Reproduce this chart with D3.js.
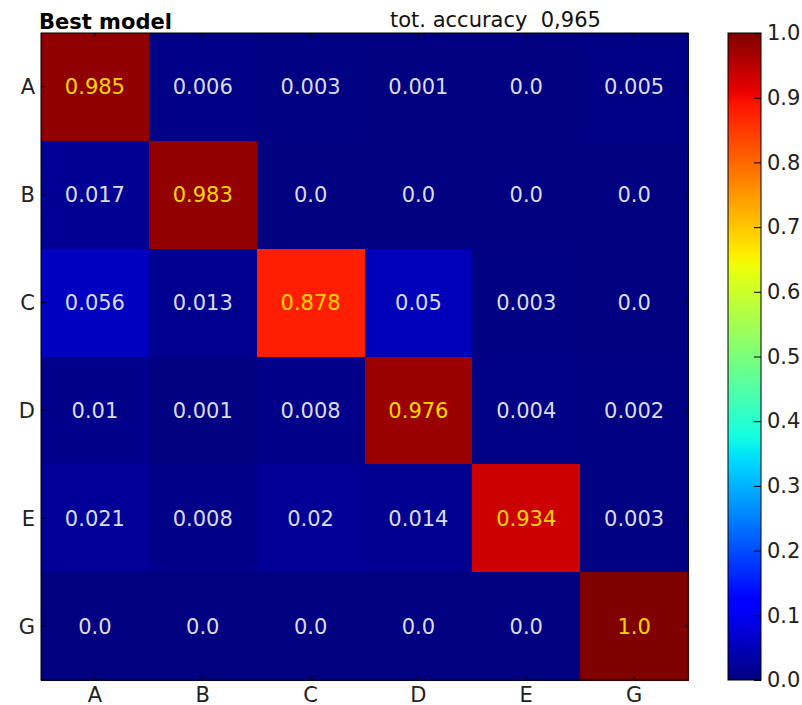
<!DOCTYPE html>
<html>
<head>
<meta charset="utf-8">
<script src="https://cdn.jsdelivr.net/npm/d3@7"></script>
<style>
  html, body { margin: 0; padding: 0; background: #ffffff; }
  svg { display: block; font-family: "DejaVu Sans", sans-serif; }
</style>
</head>
<body>
<svg id="chart" width="802" height="705"></svg>
<script>
// ---- data ----
const rowLabels = ["A", "B", "C", "D", "E", "G"];
const colLabels = ["A", "B", "C", "D", "E", "G"];
const rowA = [0.985, 0.006, 0.003, 0.001, 0.0, 0.005];
const rowB = [0.017, 0.983, 0.0, 0.0, 0.0, 0.0];
const rowC = [0.056, 0.013, 0.878, 0.05, 0.003, 0.0];
const rowD = [0.01, 0.001, 0.008, 0.976, 0.004, 0.002];
const rowE = [0.021, 0.008, 0.02, 0.014, 0.934, 0.003];
const rowG = [0.0, 0.0, 0.0, 0.0, 0.0, 1.0];
const matrixRows = [rowA, rowB, rowC, rowD, rowE, rowG];
const colorbarTicks = [0.0, 0.1, 0.2, 0.3, 0.4, 0.5, 0.6, 0.7, 0.8, 0.9, 1.0];
const titleLeft = "Best model";
const titleRight = "tot. accuracy  0,965";

// ---- jet colormap (matplotlib segment data) ----
const jetR = [[0, 0], [0.35, 0], [0.66, 1], [0.89, 1], [1, 0.5]];
const jetG = [[0, 0], [0.125, 0], [0.375, 1], [0.64, 1], [0.91, 0], [1, 0]];
const jetB = [[0, 0.5], [0.11, 1], [0.34, 1], [0.65, 0], [1, 0]];
function seg(s, v) {
  v = Math.max(0, Math.min(1, v));
  for (let i = 0; i < s.length - 1; i++) {
    if (v >= s[i][0] && v <= s[i + 1][0]) {
      const t = (v - s[i][0]) / (s[i + 1][0] - s[i][0]);
      return s[i][1] + t * (s[i + 1][1] - s[i][1]);
    }
  }
  return s[s.length - 1][1];
}
function jet(v) {
  return d3.rgb(Math.round(seg(jetR, v) * 255), Math.round(seg(jetG, v) * 255), Math.round(seg(jetB, v) * 255)).toString();
}

const svg = d3.select("#chart");
const mLeft = 41, mTop = 33, mRight = 688, mBottom = 680;
const fs = 21;

const x = d3.scaleBand().domain(colLabels).range([mLeft, mRight]).padding(0);
const y = d3.scaleBand().domain(rowLabels).range([mTop, mBottom]).padding(0);

const cells = [];
matrixRows.forEach((row, i) => row.forEach((v, j) => cells.push({ r: rowLabels[i], c: colLabels[j], v, diag: i === j })));

svg.append("g").attr("shape-rendering", "crispEdges").selectAll("rect").data(cells).join("rect")
  .attr("x", d => x(d.c)).attr("y", d => y(d.r))
  .attr("width", x.bandwidth() + 1).attr("height", y.bandwidth() + 1)
  .attr("fill", d => jet(d.v));

svg.append("g").selectAll("text").data(cells).join("text")
  .attr("x", d => x(d.c) + x.bandwidth() / 2)
  .attr("y", d => y(d.r) + y.bandwidth() / 2)
  .attr("dy", "0.36em")
  .attr("text-anchor", "middle")
  .attr("font-size", fs)
  .attr("fill", d => d.diag ? "#ffd700" : "#dcdcf0")
  .text(d => String(d.v).indexOf(".") >= 0 ? String(d.v) : d.v.toFixed(1));

// frame
svg.append("rect").attr("x", mLeft).attr("y", mTop).attr("width", mRight - mLeft).attr("height", mBottom - mTop)
  .attr("fill", "none").attr("stroke", "#000").attr("stroke-width", 1);

// inward ticks
const tk = 4;
const tickG = svg.append("g").attr("stroke", "#000").attr("stroke-width", 1);
colLabels.forEach(c => {
  const cx = x(c) + x.bandwidth() / 2;
  tickG.append("line").attr("x1", cx).attr("x2", cx).attr("y1", mBottom).attr("y2", mBottom - tk);
  tickG.append("line").attr("x1", cx).attr("x2", cx).attr("y1", mTop).attr("y2", mTop + tk);
});
rowLabels.forEach(r => {
  const cy = y(r) + y.bandwidth() / 2;
  tickG.append("line").attr("x1", mLeft).attr("x2", mLeft + tk).attr("y1", cy).attr("y2", cy);
  tickG.append("line").attr("x1", mRight).attr("x2", mRight - tk).attr("y1", cy).attr("y2", cy);
});

// axis labels
svg.append("g").selectAll("text").data(colLabels).join("text")
  .attr("x", c => x(c) + x.bandwidth() / 2).attr("y", 702)
  .attr("text-anchor", "middle").attr("font-size", fs).attr("fill", "#222").text(c => c);
svg.append("g").selectAll("text").data(rowLabels).join("text")
  .attr("x", 35).attr("y", r => y(r) + y.bandwidth() / 2).attr("dy", "0.36em")
  .attr("text-anchor", "end").attr("font-size", fs).attr("fill", "#222").text(r => r);

// titles
svg.append("text").attr("x", 39).attr("y", 28.5).attr("font-size", fs).attr("font-weight", "bold").text(titleLeft);
svg.append("text").attr("x", 390).attr("y", 27).attr("font-size", fs).attr("fill", "#111")
  .style("white-space", "pre").attr("xml:space", "preserve").text(titleRight);

// colorbar
const cbL = 728, cbR = 761;
const cbY = d3.scaleLinear().domain([0, 1]).range([mBottom, mTop]);
const defs = svg.append("defs");
const grad = defs.append("linearGradient").attr("id", "jetgrad").attr("x1", 0).attr("x2", 0).attr("y1", 1).attr("y2", 0);
d3.range(0, 1.0001, 0.01).forEach(t => grad.append("stop").attr("offset", t).attr("stop-color", jet(t)));
svg.append("rect").attr("x", cbL).attr("y", mTop).attr("width", cbR - cbL).attr("height", mBottom - mTop)
  .attr("fill", "url(#jetgrad)").attr("stroke", "#000").attr("stroke-width", 1);
const cbAxis = d3.axisRight(cbY).tickValues(colorbarTicks).tickFormat(d3.format(".1f")).tickSizeInner(-7).tickSizeOuter(0).tickPadding(6);
const cbG = svg.append("g").attr("transform", `translate(${cbR},0)`).call(cbAxis);
cbG.select(".domain").remove();
cbG.selectAll("line").attr("stroke", "#000");
cbG.selectAll("text").attr("font-size", fs).attr("fill", "#222").attr("font-family", "DejaVu Sans, sans-serif");
</script>
</body>
</html>
